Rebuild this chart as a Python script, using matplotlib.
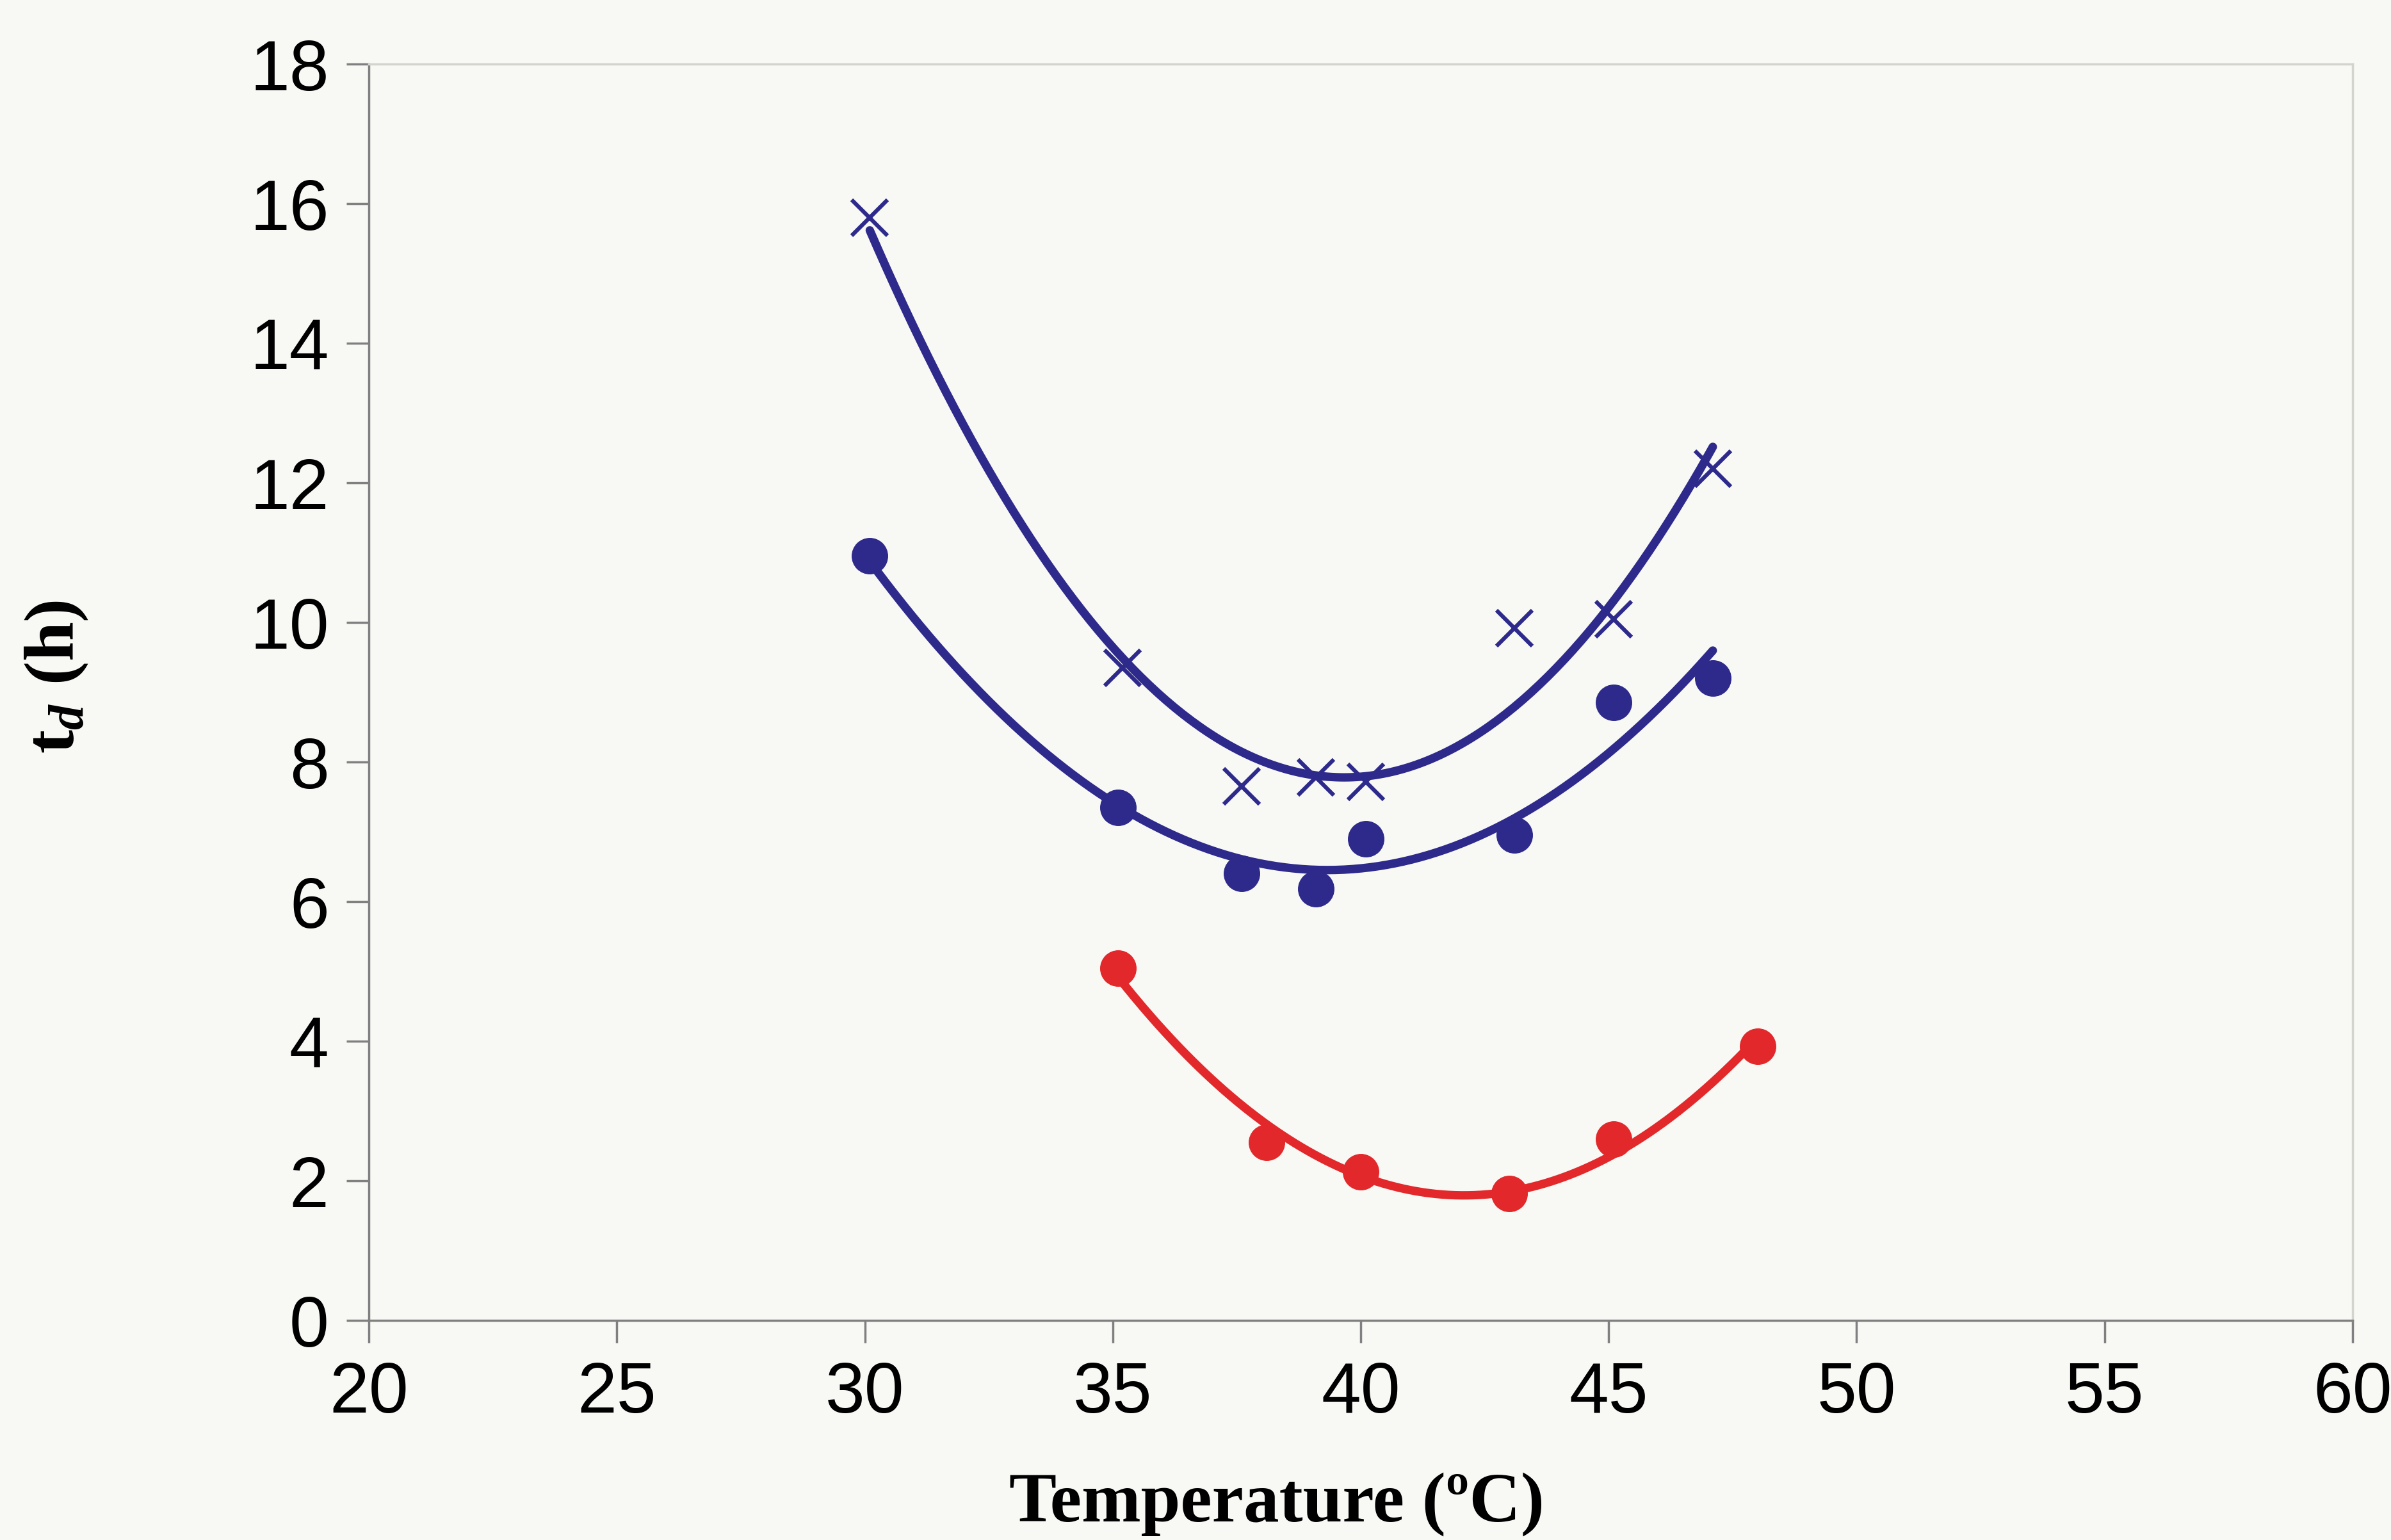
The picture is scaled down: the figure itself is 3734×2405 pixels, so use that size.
import numpy as np
import matplotlib
matplotlib.use('Agg')
import matplotlib.pyplot as plt

plt.rcParams['mathtext.fontset'] = 'custom'
plt.rcParams['mathtext.rm'] = 'Liberation Serif:bold'
plt.rcParams['mathtext.it'] = 'Liberation Serif:bold:italic'

# data
temp_x = [30.1, 35.2, 37.6, 39.1, 40.1, 43.1, 45.1, 47.1]
td_cross = [15.8, 9.35, 7.65, 7.78, 7.72, 9.92, 10.05, 12.2]

temp_dot = [30.1, 35.1, 37.6, 39.1, 40.1, 43.1, 45.1, 47.1]
td_dot = [10.95, 7.35, 6.4, 6.18, 6.9, 6.95, 8.85, 9.2]

temp_red = [35.1, 38.1, 40.0, 43.0, 45.1, 48.0]
td_red = [5.05, 2.55, 2.13, 1.82, 2.6, 3.93]

xticks = [20, 25, 30, 35, 40, 45, 50, 55, 60]
yticks = [0, 2, 4, 6, 8, 10, 12, 14, 16, 18]

blue = '#2d2a8c'
red = '#e2282b'
bg = '#f8f8f4'

fig = plt.figure(figsize=(37.34, 24.05), dpi=100, facecolor=bg)
ax = fig.add_axes([0.1543, 0.1426, 0.8296, 0.8158], facecolor=bg)


def trend(x, y, color):
    # Excel-style 2nd order polynomial trendline
    c = np.polyfit(x, y, 2)
    xs = np.linspace(min(x), max(x), 200)
    ax.plot(xs, np.polyval(c, xs), color=color, lw=9.5, solid_capstyle='round', zorder=2)


trend(temp_x, td_cross, blue)
trend(temp_dot, td_dot, blue)
trend(temp_red, td_red, red)

ax.plot(temp_x, td_cross, ls='none', marker='x', ms=40, mew=4.5, color=blue, zorder=3)
ax.plot(temp_dot, td_dot, ls='none', marker='o', ms=40, color=blue, zorder=3)
ax.plot(temp_red, td_red, ls='none', marker='o', ms=40, color=red, zorder=3)

ax.set_xlim(20, 60)
ax.set_ylim(0, 18)
ax.set_xticks(xticks)
ax.set_yticks(yticks)
ax.tick_params(axis='both', direction='out', length=25, width=2.5, color='#808080',
               labelsize=80, pad=20)
for lab in ax.get_xticklabels() + ax.get_yticklabels():
    lab.set_fontfamily('Liberation Sans')

for s in ['left', 'bottom']:
    ax.spines[s].set_color('#808080')
    ax.spines[s].set_linewidth(2.5)
for s in ['top', 'right']:
    ax.spines[s].set_color('#d4d4ce')
    ax.spines[s].set_linewidth(2.5)

fig.text(1994 / 3734, 1 - 2350 / 2405, 'Temperature (ºC)', ha='center', va='center',
         fontsize=80, fontweight='bold', family='Liberation Serif')
fig.text(88 / 3734, 1 - 1057 / 2405, r'$\mathrm{t}_{\mathit{d}}$ (h)', ha='center', va='center',
         rotation=90, fontsize=80, fontweight='bold', family='Liberation Serif')

fig.savefig('out.png', dpi=100, facecolor=bg)
